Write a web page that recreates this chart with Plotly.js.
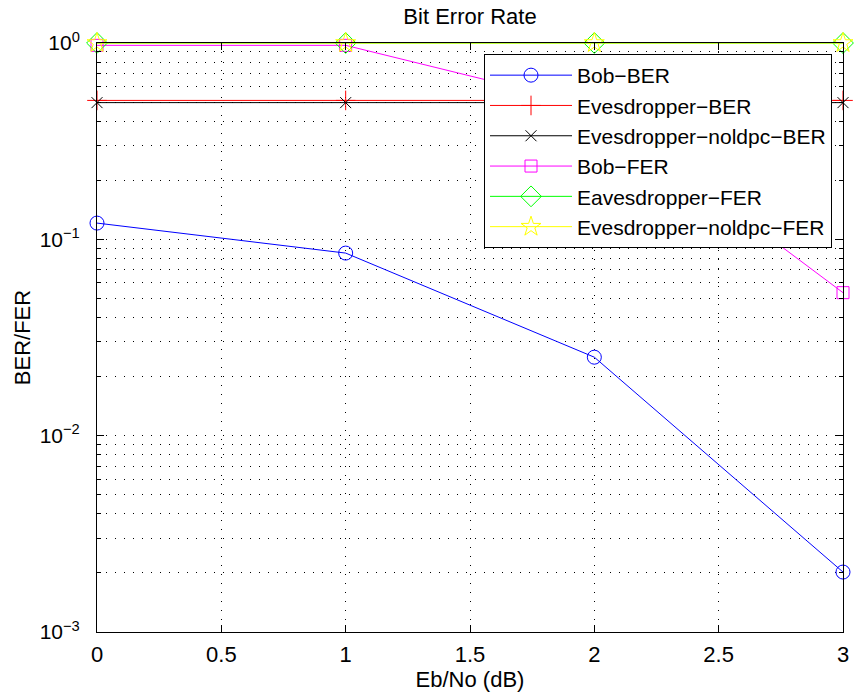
<!DOCTYPE html>
<html>
<head>
<meta charset="utf-8">
<script src="https://cdn.plot.ly/plotly-3.0.1.min.js"></script>
<style>html,body{margin:0;padding:0;background:#fff;}#chart{width:854px;height:698px;}</style>
</head>
<body>
<div id="chart"></div>
<script>
const ebno = [0, 1, 2, 3];
const bobBER = [0.121, 0.0851, 0.0251, 0.00202];
const eveBER = [0.51, 0.51, 0.51, 0.51];
const eveNoldpcBER = [0.497, 0.497, 0.497, 0.497];
const bobFER = [0.973, 0.973, 0.475, 0.0535];
const eveFER = [1, 1, 1, 1];
const eveNoldpcFER = [1, 1, 1, 1];
const seriesNames = ['Bob\u2212BER', 'Evesdropper\u2212BER', 'Evesdropper\u2212noldpc\u2212BER', 'Bob\u2212FER', 'Eavesdropper\u2212FER', 'Evesdropper\u2212noldpc\u2212FER'];
const yTickVals = [0.001, 0.01, 0.1, 1];
const yTickText = ['10<sup>\u22123</sup>', '10<sup>\u22122</sup>', '10<sup>\u22121</sup>', '10<sup>0</sup>'];
const xTickVals = [0, 0.5, 1, 1.5, 2, 2.5, 3];
const xTickText = ['0', '0.5', '1', '1.5', '2', '2.5', '3'];

const minorVals = [];
[0.001, 0.01, 0.1].forEach(d => { for (let k = 2; k <= 9; k++) minorVals.push(d * k); });

const FONT = 'Liberation Sans, Arial, Helvetica, sans-serif';
const FS = 22;
function tr(y, name, color, symbol, size) {
  return {
    x: ebno, y: y, name: name, type: 'scatter', mode: 'lines+markers', cliponaxis: false,
    line: {color: color, width: 1},
    marker: {symbol: symbol, size: size, color: color, line: {color: color, width: 1}}
  };
}
const data = [
  tr(bobBER, seriesNames[0], '#0000ff', 'circle-open', 14),
  tr(eveBER, seriesNames[1], '#ff0000', 'cross-thin-open', 14),
  tr(eveNoldpcBER, seriesNames[2], '#000000', 'x-thin-open', 11),
  tr(bobFER, seriesNames[3], '#ff00ff', 'square-open', 12),
  tr(eveFER, seriesNames[4], '#00ff00', 'diamond-open', 16),
  tr(eveNoldpcFER, seriesNames[5], '#ffff00', 'star-open', 15)
];
const gridDash = '1px,8px';
const layout = {
  width: 854, height: 698,
  margin: {l: 97, r: 11, t: 43, b: 66},
  paper_bgcolor: '#ffffff', plot_bgcolor: '#ffffff',
  font: {family: FONT, size: FS, color: '#000'},
  showlegend: true,
  title: {text: 'Bit Error Rate', font: {family: FONT, size: FS, color: '#000'}, x: 0.5, xref: 'paper', y: 1 - 16 / 698, yref: 'container', yanchor: 'middle'},
  xaxis: {
    range: [0, 3], tickmode: 'array', tickvals: xTickVals, ticktext: xTickText,
    showline: true, linecolor: '#000', linewidth: 1, mirror: 'allticks',
    ticks: 'inside', ticklen: 7, tickcolor: '#000', tickwidth: 1,
    showgrid: true, gridcolor: '#000', gridwidth: 1, griddash: gridDash,
    zeroline: false, ticklabelstandoff: 3,
    tickfont: {family: FONT, size: FS, color: '#000'},
    title: {text: 'Eb/No (dB)', font: {family: FONT, size: FS, color: '#000'}, standoff: 4}
  },
  yaxis: {
    type: 'log', range: [-3, 0], tickmode: 'array', tickvals: yTickVals, ticktext: yTickText,
    showline: true, linecolor: '#000', linewidth: 1, mirror: 'allticks',
    ticks: 'inside', ticklen: 7, tickcolor: '#000', tickwidth: 1,
    showgrid: true, gridcolor: '#000', gridwidth: 1, griddash: gridDash,
    zeroline: false, ticklabelstandoff: 12,
    tickfont: {family: FONT, size: 21, color: '#000'},
    minor: {tickmode: 'array', tickvals: minorVals, ticks: 'inside', ticklen: 4, tickcolor: '#000', showgrid: true, gridcolor: '#000', gridwidth: 1, griddash: gridDash},
    title: {text: 'BER/FER', font: {family: FONT, size: FS, color: '#000'}, standoff: 2}
  },
  legend: {
    x: (832 - 97) / 746, xanchor: 'right', y: 1 - (54 - 43) / 589, yanchor: 'top',
    bgcolor: '#ffffff', bordercolor: '#000', borderwidth: 1,
    font: {family: FONT, size: 21, color: '#000'},
    itemwidth: 82, tracegroupgap: 0
  }
};
Plotly.newPlot('chart', data, layout, {displayModeBar: false, staticPlot: true});
</script>
</body>
</html>
